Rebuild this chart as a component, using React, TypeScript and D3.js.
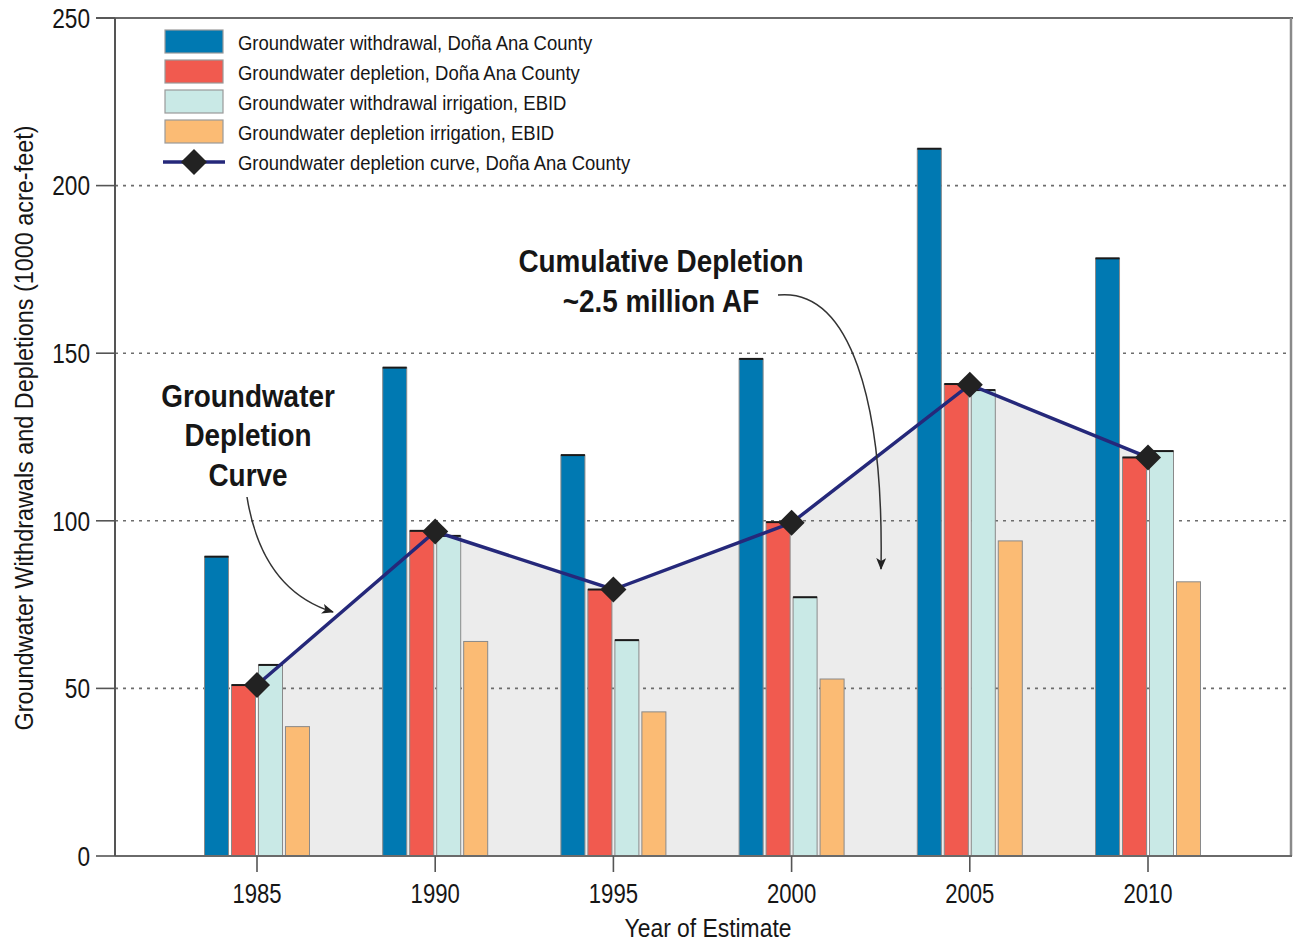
import React from "react";
import * as d3 from "d3";

const years = [1985, 1990, 1995, 2000, 2005, 2010];
const withdrawalCounty = [89.3, 145.7, 119.6, 148.3, 211, 178.3];
const depletionCounty = [51, 97, 79.5, 99.6, 140.8, 118.9];
const withdrawalEBID = [57, 95.5, 64.4, 77.2, 139, 120.8];
const depletionEBID = [38.6, 64, 43, 52.8, 94, 81.8];
const depletionCurve = [51, 96.8, 79.5, 99.4, 140.6, 118.9];
const yTicks = [0, 50, 100, 150, 200, 250];

const seriesKeys = ["wc", "dc", "we", "de"];
const seriesLabels = [
  "Groundwater withdrawal, Doña Ana County",
  "Groundwater depletion, Doña Ana County",
  "Groundwater withdrawal irrigation, EBID",
  "Groundwater depletion irrigation, EBID",
];
const curveLabel = "Groundwater depletion curve, Doña Ana County";
const seriesColors = ["#0079b2", "#f15a4f", "#c9e9e6", "#fbbb74"];
const seriesValues = [withdrawalCounty, depletionCounty, withdrawalEBID, depletionEBID];

const FONT = "'Liberation Sans', Arial, sans-serif";

function NText(props: {
  x: number; y: number; sx: number; size: number; anchor?: string; bold?: boolean;
  children: React.ReactNode; dy?: string;
}) {
  const { x, y, sx, size, anchor, bold, children, dy } = props;
  return (
    <text transform={`translate(${x},${y}) scale(${sx},1)`} fontSize={size} dy={dy}
      textAnchor={anchor || "start"} fontWeight={bold ? "bold" : "normal"} fill="#161616">
      {children}
    </text>
  );
}

export default function App() {
  const W = 1296, H = 943;
  const left = 115, right = 1291, top = 18, bottom = 856;
  const x = d3.scalePoint<number>().domain(years).range([257, 1148]);
  const inner = d3.scaleBand<string>().domain(seriesKeys).range([-52.5, 52.5]).paddingInner(0.11);
  const y = d3.scaleLinear().domain([0, 250]).range([bottom, top]);

  const area = d3.area<number>()
    .x((_, i) => x(years[i])!)
    .y0(y(0))
    .y1((d) => y(d));
  const line = d3.line<number>()
    .x((_, i) => x(years[i])!)
    .y((d) => y(d));
  const diamond = d3.symbol().type(d3.symbolSquare).size(340)();

  return (
    <svg width={W} height={H} style={{ position: "absolute", left: 0, top: 0, background: "#fff" }}
      fontFamily={FONT}>
      <defs>
        <marker id="ah" viewBox="0 0 12 10" refX="11" refY="5" markerWidth="12" markerHeight="10"
          markerUnits="userSpaceOnUse" orient="auto">
          <path d="M0,0 L12,5 L0,10 L3,5 Z" fill="#222" />
        </marker>
      </defs>

      {/* shaded cumulative area */}
      <path d={area(depletionCurve)!} fill="#ececec" />

      {/* gridlines */}
      {yTicks.filter((t) => t > 0 && t < 250).map((t) => (
        <line key={t} x1={left} x2={right} y1={y(t)} y2={y(t)} stroke="#6d6d6d" strokeWidth={1.6}
          strokeDasharray="3,5" />
      ))}

      {/* bars */}
      {years.map((yr, i) => (
        <g key={yr} transform={`translate(${x(yr)},0)`}>
          {seriesKeys.map((k, s) => {
            const v = seriesValues[s][i];
            const bx = inner(k)!;
            const bw = inner.bandwidth();
            return (
              <g key={k}>
                <rect x={bx} y={y(v)} width={bw} height={y(0) - y(v)} fill={seriesColors[s]}
                  stroke="#8a8a8a" strokeWidth={1} />
                {s < 3 && (
                  <line x1={bx} x2={bx + bw} y1={y(v)} y2={y(v)} stroke="#1a1a1a" strokeWidth={2} />
                )}
              </g>
            );
          })}
        </g>
      ))}

      {/* depletion curve */}
      <path d={line(depletionCurve)!} fill="none" stroke="#25287a" strokeWidth={3.5} />
      {depletionCurve.map((v, i) => (
        <path key={i} d={diamond!} transform={`translate(${x(years[i])},${y(v)}) rotate(45)`} fill="#222" />
      ))}

      {/* frame */}
      <line x1={96} x2={right + 2} y1={top} y2={top} stroke="#6a6a6a" strokeWidth={2} />
      <line x1={right} x2={right} y1={top} y2={bottom} stroke="#8a8a8a" strokeWidth={2.5} />
      <line x1={left} x2={right + 1} y1={bottom} y2={bottom} stroke="#6a6a6a" strokeWidth={2} />
      <line x1={left} x2={left} y1={top} y2={bottom} stroke="#555" strokeWidth={2} />

      {/* y axis ticks */}
      {yTicks.map((t) => (
        <g key={t}>
          <line x1={96} x2={left} y1={y(t)} y2={y(t)} stroke="#555" strokeWidth={1.6} />
          <NText x={90} y={y(t)} dy="0.36em" sx={0.84} size={27} anchor="end">{t}</NText>
        </g>
      ))}

      {/* x axis ticks */}
      {years.map((yr) => (
        <g key={yr}>
          <line x1={x(yr)} x2={x(yr)} y1={bottom} y2={872} stroke="#555" strokeWidth={1.6} />
          <NText x={x(yr)!} y={903} sx={0.82} size={27} anchor="middle">{yr}</NText>
        </g>
      ))}

      {/* axis titles */}
      <NText x={708} y={937} sx={0.88} size={26} anchor="middle">Year of Estimate</NText>
      <text transform={`translate(33,428) rotate(-90)`} textAnchor="middle" fontSize={25} fill="#161616"
        textLength={605} lengthAdjust="spacingAndGlyphs">
        Groundwater Withdrawals and Depletions (1000 acre-feet)
      </text>

      {/* legend */}
      {seriesLabels.map((lab, s) => (
        <g key={lab} transform={`translate(165,${30 + s * 30})`}>
          <rect x={0} y={0} width={58} height={23} fill={seriesColors[s]} stroke="#9a9a9a" strokeWidth={1.2} />
          <NText x={73} y={12} dy="0.36em" sx={0.88} size={21}>{lab}</NText>
        </g>
      ))}
      <g transform={`translate(165,${30 + 4 * 30})`}>
        <line x1={-2} x2={60} y1={12} y2={12} stroke="#25287a" strokeWidth={3.5} />
        <path d={diamond!} transform={`translate(29,12) rotate(45)`} fill="#222" />
        <NText x={73} y={12} dy="0.36em" sx={0.88} size={21}>{curveLabel}</NText>
      </g>

      {/* annotations */}
      <NText x={248} y={407} sx={0.9} size={31} bold anchor="middle">Groundwater</NText>
      <NText x={248} y={446} sx={0.9} size={31} bold anchor="middle">Depletion</NText>
      <NText x={248} y={486} sx={0.9} size={31} bold anchor="middle">Curve</NText>
      <NText x={661} y={272} sx={0.9} size={31} bold anchor="middle">Cumulative Depletion</NText>
      <NText x={661} y={312} sx={0.9} size={31} bold anchor="middle">~2.5 million AF</NText>
      <path d="M247,497 Q262,590 333,612" fill="none" stroke="#333" strokeWidth={1.5} markerEnd="url(#ah)" />
      <path d="M778,295 C850,288 884,400 881,569" fill="none" stroke="#333" strokeWidth={1.5} markerEnd="url(#ah)" />
    </svg>
  );
}
